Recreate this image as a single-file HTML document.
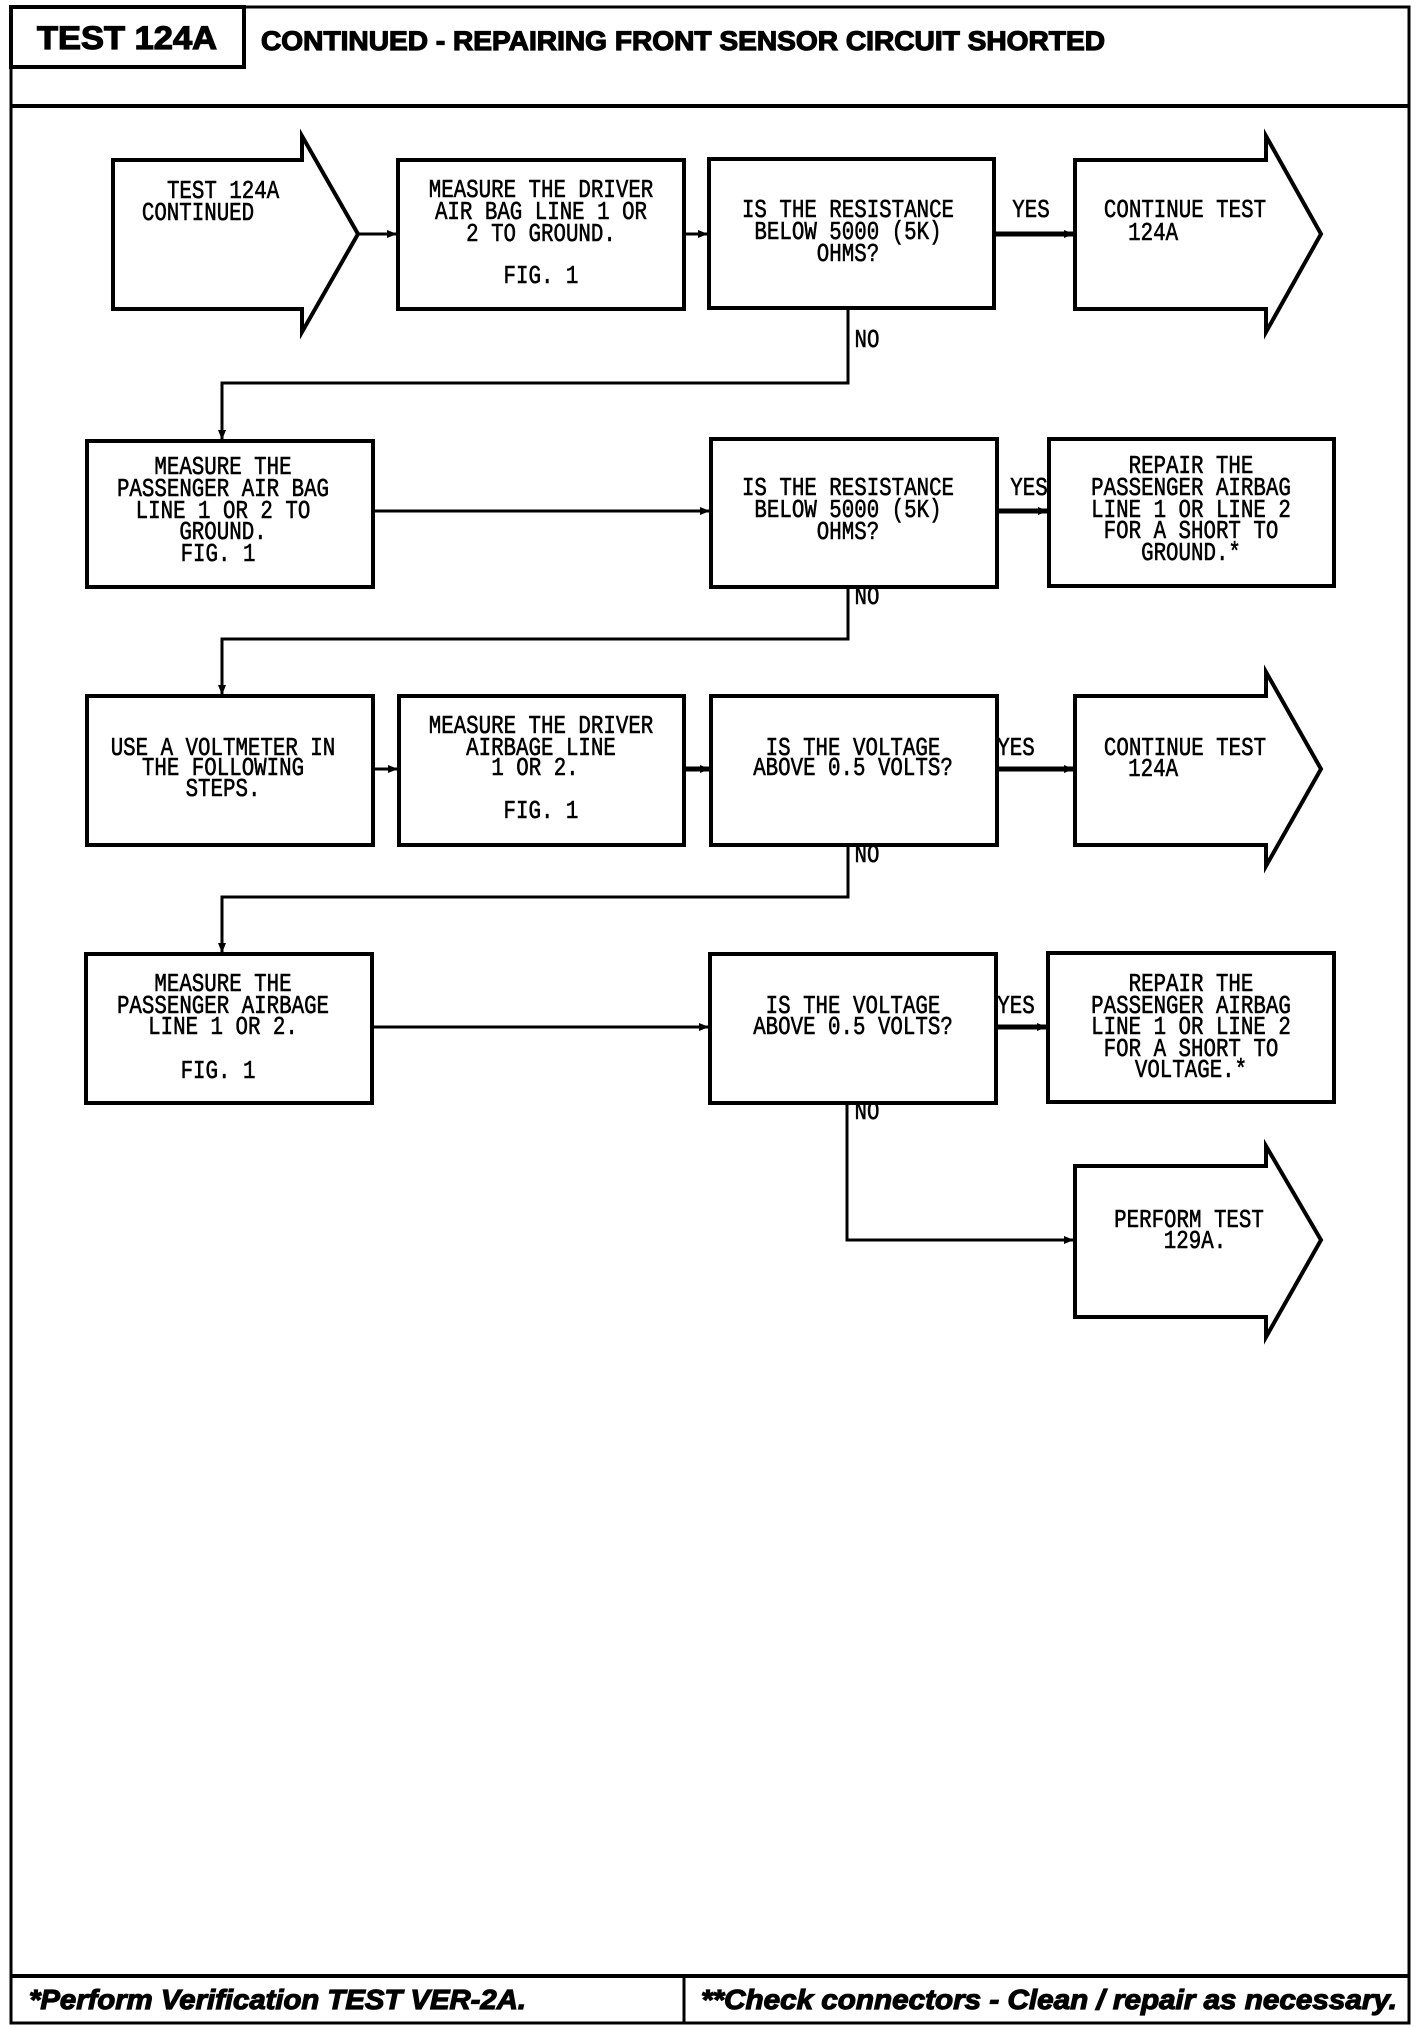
<!DOCTYPE html>
<html><head><meta charset="utf-8"><style>
html,body{margin:0;padding:0;background:#fff;}
svg{display:block}
.t{font-family:"Liberation Mono",monospace;font-size:26px;fill:#000;text-anchor:middle;transform-box:fill-box;transform-origin:center;transform:scaleX(0.8);stroke:#000;stroke-width:0.6px}
.s{fill:none;stroke:#000;stroke-width:4}
.l{fill:none;stroke:#000;stroke-width:3}
.h{stroke:#000;stroke-width:1.2px}
</style></head><body>
<svg width="1424" height="2028" viewBox="0 0 1424 2028" xmlns="http://www.w3.org/2000/svg">
<defs><marker id="a" markerWidth="10" markerHeight="10" refX="9" refY="5" orient="auto" markerUnits="userSpaceOnUse"><path d="M0,1 L10,5 L0,9 z" fill="#000"/></marker></defs>
<rect x="11" y="7" width="1398" height="2016" fill="none" stroke="#000" stroke-width="3"/>
<rect x="11" y="7" width="233" height="60" fill="none" stroke="#000" stroke-width="4"/>
<line x1="11" y1="106" x2="1409" y2="106" stroke="#000" stroke-width="4"/>
<line x1="11" y1="1976" x2="1409" y2="1976" stroke="#000" stroke-width="4"/>
<line x1="684" y1="1976" x2="684" y2="2023" stroke="#000" stroke-width="3"/>
<text class="h" x="127" y="49" font-family="Liberation Sans" font-weight="bold" font-size="32" text-anchor="middle" textLength="180" lengthAdjust="spacingAndGlyphs">TEST 124A</text>
<text class="h" x="261" y="50" font-family="Liberation Sans" font-weight="bold" font-size="27" textLength="844" lengthAdjust="spacingAndGlyphs">CONTINUED - REPAIRING FRONT SENSOR CIRCUIT SHORTED</text>
<text class="h" x="29" y="2009" font-family="Liberation Sans" font-weight="bold" font-style="italic" font-size="28" textLength="497" lengthAdjust="spacingAndGlyphs">*Perform Verification TEST VER-2A.</text>
<text class="h" x="701" y="2009" font-family="Liberation Sans" font-weight="bold" font-style="italic" font-size="28" textLength="696" lengthAdjust="spacingAndGlyphs">**Check connectors - Clean / repair as necessary.</text>

<path class="s" d="M113,160 H302 V136 L358,234 L302,332 V309 H113 Z"/>
<rect class="s" x="398" y="160" width="286" height="149"/>
<rect class="s" x="709" y="159" width="285" height="149"/>
<path class="s" d="M1075,160 H1266 V136 L1321,234 L1266,332 V309 H1075 Z"/>
<line class="l" x1="358" y1="234" x2="396" y2="234" marker-end="url(#a)"/>
<line class="l" x1="684" y1="234" x2="707" y2="234" marker-end="url(#a)"/>
<line x1="994" y1="234" x2="1073" y2="234" stroke="#000" stroke-width="5" marker-end="url(#a)"/>
<text class="t" x="223" y="198">TEST 124A</text>
<text class="t" x="198" y="220">CONTINUED</text>
<text class="t" x="541" y="197">MEASURE THE DRIVER</text>
<text class="t" x="541" y="219">AIR BAG LINE 1 OR</text>
<text class="t" x="541" y="241">2 TO GROUND.</text>
<text class="t" x="541" y="283">FIG. 1</text>
<text class="t" x="848" y="217">IS THE RESISTANCE</text>
<text class="t" x="848" y="239">BELOW 5000 (5K)</text>
<text class="t" x="848" y="261">OHMS?</text>
<text class="t" x="1031" y="217">YES</text>
<text class="t" x="1185" y="217">CONTINUE TEST</text>
<text class="t" x="1153" y="240">124A</text>
<polyline class="l" points="848,308 848,383 222,383 222,439" marker-end="url(#a)"/>
<text class="t" x="867" y="347">NO</text>

<rect class="s" x="87" y="441" width="286" height="146"/>
<rect class="s" x="711" y="439" width="286" height="148"/>
<rect class="s" x="1049" y="439" width="285" height="147"/>
<line class="l" x1="373" y1="511" x2="709" y2="511" marker-end="url(#a)"/>
<line x1="997" y1="511" x2="1047" y2="511" stroke="#000" stroke-width="5" marker-end="url(#a)"/>
<text class="t" x="223" y="474">MEASURE THE</text>
<text class="t" x="223" y="496">PASSENGER AIR BAG</text>
<text class="t" x="223" y="518">LINE 1 OR 2 TO</text>
<text class="t" x="223" y="539">GROUND.</text>
<text class="t" x="218" y="561">FIG. 1</text>
<text class="t" x="848" y="495">IS THE RESISTANCE</text>
<text class="t" x="848" y="517">BELOW 5000 (5K)</text>
<text class="t" x="848" y="539">OHMS?</text>
<text class="t" x="1029" y="495">YES</text>
<text class="t" x="1191" y="473">REPAIR THE</text>
<text class="t" x="1191" y="495">PASSENGER AIRBAG</text>
<text class="t" x="1191" y="517">LINE 1 OR LINE 2</text>
<text class="t" x="1191" y="538">FOR A SHORT TO</text>
<text class="t" x="1191" y="560">GROUND.*</text>
<polyline class="l" points="848,587 848,639 222,639 222,694" marker-end="url(#a)"/>
<text class="t" x="867" y="604">NO</text>

<rect class="s" x="87" y="696" width="286" height="149"/>
<rect class="s" x="399" y="696" width="285" height="149"/>
<rect class="s" x="711" y="696" width="286" height="149"/>
<path class="s" d="M1075,696 H1266 V672 L1321,769 L1266,866 V845 H1075 Z"/>
<line class="l" x1="373" y1="769" x2="397" y2="769" marker-end="url(#a)"/>
<line x1="684" y1="769" x2="709" y2="769" stroke="#000" stroke-width="5" marker-end="url(#a)"/>
<line x1="997" y1="769" x2="1073" y2="769" stroke="#000" stroke-width="5" marker-end="url(#a)"/>
<text class="t" x="223" y="755">USE A VOLTMETER IN</text>
<text class="t" x="223" y="775">THE FOLLOWING</text>
<text class="t" x="223" y="796">STEPS.</text>
<text class="t" x="541" y="733">MEASURE THE DRIVER</text>
<text class="t" x="541" y="755">AIRBAGE LINE</text>
<text class="t" x="535" y="775">1 OR 2.</text>
<text class="t" x="541" y="818">FIG. 1</text>
<text class="t" x="853" y="755">IS THE VOLTAGE</text>
<text class="t" x="853" y="775">ABOVE 0.5 VOLTS?</text>
<text class="t" x="1016" y="755">YES</text>
<text class="t" x="1185" y="755">CONTINUE TEST</text>
<text class="t" x="1153" y="776">124A</text>
<polyline class="l" points="848,845 848,897 222,897 222,952" marker-end="url(#a)"/>
<text class="t" x="867" y="862">NO</text>

<rect class="s" x="86" y="954" width="286" height="149"/>
<rect class="s" x="710" y="954" width="286" height="149"/>
<rect class="s" x="1048" y="953" width="286" height="149"/>
<line class="l" x1="372" y1="1027" x2="708" y2="1027" marker-end="url(#a)"/>
<line x1="996" y1="1027" x2="1046" y2="1027" stroke="#000" stroke-width="5" marker-end="url(#a)"/>
<text class="t" x="223" y="991">MEASURE THE</text>
<text class="t" x="223" y="1013">PASSENGER AIRBAGE</text>
<text class="t" x="223" y="1034">LINE 1 OR 2.</text>
<text class="t" x="218" y="1078">FIG. 1</text>
<text class="t" x="853" y="1013">IS THE VOLTAGE</text>
<text class="t" x="853" y="1034">ABOVE 0.5 VOLTS?</text>
<text class="t" x="1016" y="1013">YES</text>
<text class="t" x="1191" y="991">REPAIR THE</text>
<text class="t" x="1191" y="1013">PASSENGER AIRBAG</text>
<text class="t" x="1191" y="1034">LINE 1 OR LINE 2</text>
<text class="t" x="1191" y="1056">FOR A SHORT TO</text>
<text class="t" x="1191" y="1077">VOLTAGE.*</text>
<polyline class="l" points="847,1103 847,1240 1073,1240" marker-end="url(#a)"/>
<text class="t" x="867" y="1119">NO</text>
<path class="s" d="M1075,1166 H1266 V1146 L1321,1240 L1266,1337 V1317 H1075 Z"/>
<text class="t" x="1189" y="1227">PERFORM TEST</text>
<text class="t" x="1195" y="1248">129A.</text>
</svg>
</body></html>
